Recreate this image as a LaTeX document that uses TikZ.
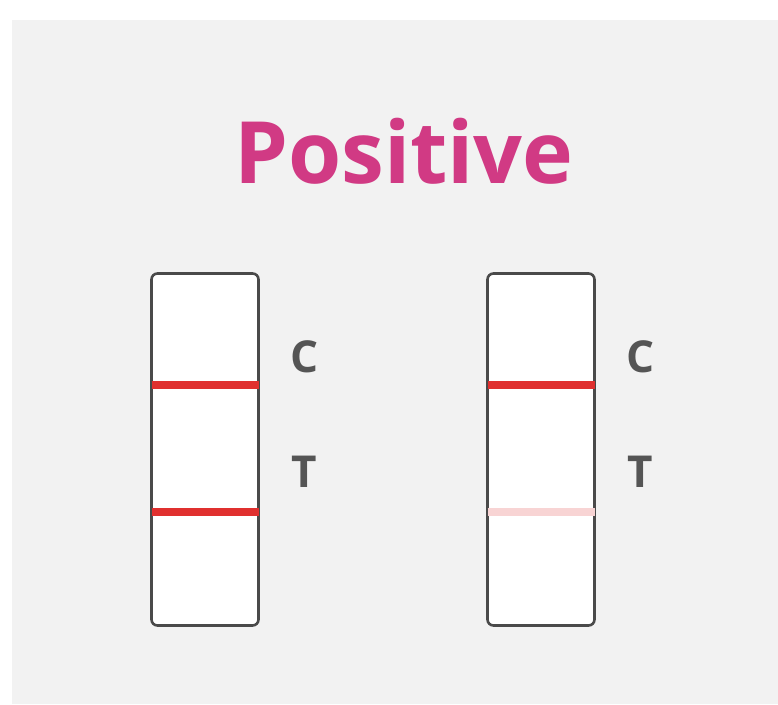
\documentclass[tikz,border=0pt]{standalone}
\usepackage{fontspec}
\setmainfont{Open Sans}
\usepackage{tikz}
\usetikzlibrary{positioning,calc}
\definecolor{bggray}{HTML}{F2F2F2}
\definecolor{titlepink}{HTML}{D13A84}
\definecolor{framegray}{HTML}{4A4A4A}
\definecolor{labelgray}{HTML}{555555}
\definecolor{bandred}{HTML}{E0302F}
\definecolor{bandpale}{HTML}{F8D4D4}
\begin{document}
\begin{tikzpicture}[x=1pt,y=-1pt,
				strip/.style={draw=framegray, line width=2.6pt, fill=white, rounded corners=6pt, minimum width=107pt, minimum height=352pt, inner sep=0pt},
				band/.style={line width=8.5pt},
				letter/.style={text=labelgray, font=\fontsize{44}{44}\selectfont\bfseries, anchor=base, inner sep=0pt}]
				\useasboundingbox (0,0) rectangle (778,704);
				\fill[bggray] (12,20) rectangle (778,704);
				\node[text=titlepink, font=\fontsize{86}{86}\selectfont\bfseries, anchor=base, inner sep=0pt] (title) at (404,183) {Positive};
				
				\node[strip] (left) at (205,449.5) {};
				\node[strip] (right) at (541,449.5) {};
				
				\draw[band, bandred] ($(left.west)+(1.3,-64.5)$) -- ($(left.east)+(-1.3,-64.5)$);
				\draw[band, bandred] ($(left.west)+(1.3,62.5)$) -- ($(left.east)+(-1.3,62.5)$);
				\draw[band, bandred] ($(right.west)+(1.3,-64.5)$) -- ($(right.east)+(-1.3,-64.5)$);
				\draw[band, bandpale] ($(right.west)+(1.3,62.5)$) -- ($(right.east)+(-1.3,62.5)$);
				
				\node[letter] (leftC) at (305,372) {C};
				\node[letter] (leftT) at (304,487) {T};
				\node[letter] (rightC) at (641,372) {C};
				\node[letter] (rightT) at (640,487) {T};
			\end{tikzpicture}
\end{document}
